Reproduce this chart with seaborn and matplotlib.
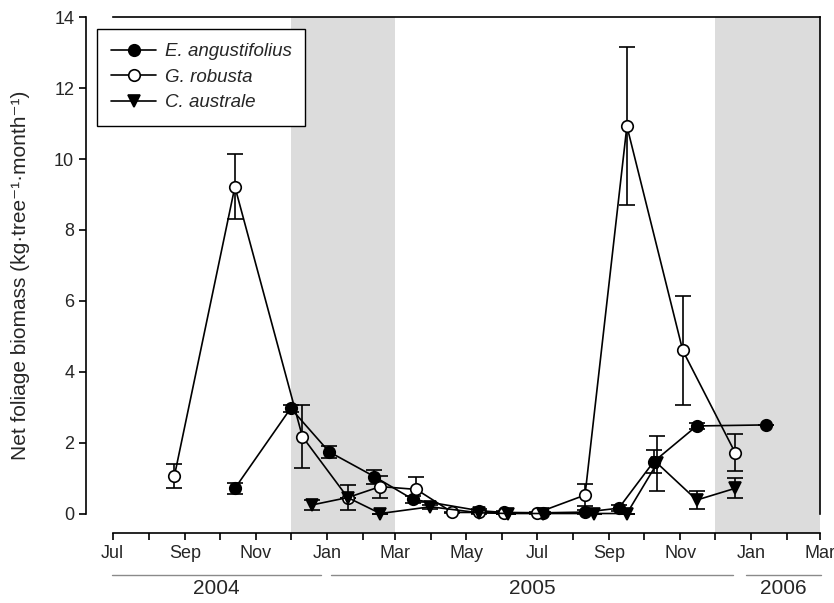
import matplotlib
matplotlib.use("Agg")
import matplotlib.pyplot as plt
import matplotlib.dates as mdates
from matplotlib.lines import Line2D
import numpy as np
import pandas as pd
import seaborn as sns

# ---------------- data ----------------
ea_dates = ["2004-10-14", "2004-12-01", "2005-01-03", "2005-02-11", "2005-03-16",
            "2005-05-12", "2005-06-02", "2005-07-06", "2005-08-11", "2005-09-09",
            "2005-10-09", "2005-11-15", "2006-01-14"]
ea_vals = [0.71, 2.97, 1.74, 1.04, 0.40, 0.08, 0.03, 0.02, 0.04, 0.15, 1.46, 2.47, 2.50]
ea_errs = [0.15, 0.10, 0.17, 0.20, 0.10, 0.06, 0.03, 0.02, 0.05, 0.08, 0.33, 0.08, 0.0]

gr_dates = ["2004-08-23", "2004-10-14", "2004-12-11", "2005-01-19", "2005-02-16",
            "2005-03-19", "2005-04-19", "2005-05-12", "2005-06-02", "2005-07-01",
            "2005-08-11", "2005-09-16", "2005-11-03", "2005-12-18"]
gr_vals = [1.06, 9.22, 2.17, 0.45, 0.76, 0.68, 0.03, 0.03, 0.02, 0.02, 0.52, 10.93, 4.60, 1.72]
gr_errs = [0.33, 0.92, 0.90, 0.36, 0.31, 0.36, 0.02, 0.03, 0.02, 0.02, 0.31, 2.22, 1.55, 0.53]

ca_dates = ["2004-12-19", "2005-01-19", "2005-02-16", "2005-03-31", "2005-05-12",
            "2005-06-06", "2005-07-06", "2005-08-19", "2005-09-16", "2005-10-12",
            "2005-11-15", "2005-12-18"]
ca_vals = [0.24, 0.45, 0.0, 0.19, 0.02, 0.0, 0.0, 0.0, 0.0, 1.42, 0.38, 0.71]
ca_errs = [0.14, 0.0, 0.0, 0.05, 0.0, 0.0, 0.0, 0.0, 0.0, 0.78, 0.25, 0.28]

species = ["E. angustifolius", "G. robusta", "C. australe"]
season_spans = [("2004-12-01", "2005-03-01"), ("2005-12-01", "2006-03-01")]
year_labels = ["2004", "2005", "2006"]
year_spans = [("2004-06-30", "2004-12-27"), ("2005-01-05", "2005-12-16"), ("2005-12-27", "2006-03-02")]
y_ticks = [0, 2, 4, 6, 8, 10, 12, 14]

# ---------------- style ----------------
sns.set_style("ticks")
plt.rcParams["font.family"] = ["Liberation Sans", "DejaVu Sans"]

fig = plt.figure(figsize=(8.34, 6.03), dpi=100)
ax = fig.add_axes([86 / 834, 70 / 603, 734 / 834, 515.7 / 603])

x_start = pd.Timestamp("2004-07-01")
x_end = pd.Timestamp("2006-03-01")
ax.set_xlim(x_start - pd.Timedelta(days=23), x_end)
ax.set_ylim(-0.55, 14)

for a, b in season_spans:
    ax.axvspan(pd.Timestamp(a), pd.Timestamp(b), color="#dcdcdc", lw=0, zorder=0)

series = [
    (ea_dates, ea_vals, ea_errs, "o", "black", 8.3),
    (gr_dates, gr_vals, gr_errs, "o", "white", 8.3),
    (ca_dates, ca_vals, ca_errs, "v", "black", 9.0),
]

handles = []
for name, (d, v, e, mk, fc, ms) in zip(species, series):
    df = pd.DataFrame({"date": pd.to_datetime(d), "value": v, "err": e})
    ax.errorbar(df["date"], df["value"], yerr=df["err"], fmt="none", ecolor="black",
                elinewidth=1.2, capsize=5.5, capthick=1.2, zorder=2)
    sns.lineplot(data=df, x="date", y="value", ax=ax, color="black", lw=1.2,
                 marker=mk, markersize=ms, markerfacecolor=fc, markeredgecolor="black",
                 markeredgewidth=1.2, estimator=None, sort=True, zorder=3, legend=False)
    handles.append(Line2D([], [], color="black", lw=1.2, marker=mk, markersize=ms,
                          markerfacecolor=fc, markeredgecolor="black", markeredgewidth=1.2))

# axes / spines
ax.spines["left"].set_bounds(0, 14)
ax.spines["right"].set_bounds(0, 14)
ax.spines["top"].set_bounds(mdates.date2num(x_start), mdates.date2num(x_end))
ax.spines["bottom"].set_bounds(mdates.date2num(x_start), mdates.date2num(x_end))
for s in ax.spines.values():
    s.set_linewidth(1.2)
    s.set_color("black")
ax.spines["right"].set_visible(True)
ax.spines["top"].set_visible(True)

ax.set_yticks(y_ticks)
ax.xaxis.set_major_locator(mdates.MonthLocator(bymonth=[1, 3, 5, 7, 9, 11]))
ax.xaxis.set_minor_locator(mdates.MonthLocator())
ax.xaxis.set_major_formatter(mdates.DateFormatter("%b"))
ax.tick_params(axis="both", which="both", direction="out", length=5, width=1.2,
               color="black", labelsize=13, pad=3.5)
ax.tick_params(axis="x", which="minor", length=5)
ax.tick_params(right=False, top=False)

ax.set_xlabel("")
ax.set_ylabel("Net foliage biomass (kg·tree⁻¹·month⁻¹)", fontsize=15, labelpad=17)

# year lines under the axis
trans = ax.get_xaxis_transform()
for lab, (a, b) in zip(year_labels, year_spans):
    ta, tb = pd.Timestamp(a), pd.Timestamp(b)
    ax.plot([ta, tb], [-0.0814, -0.0814], transform=trans, color="#8a8a8a", lw=1.0,
            clip_on=False)
    mid = ta + (tb - ta) / 2
    ax.text(mid, -0.107, lab, transform=trans, ha="center", va="center", fontsize=15)

leg = ax.legend(handles, species, loc="upper left", bbox_to_anchor=(0.015, 0.977),
                borderaxespad=0, frameon=True, fancybox=False, edgecolor="black",
                framealpha=1, handlelength=2.4, labelspacing=0.45,
                borderpad=0.75, handletextpad=0.45, prop={"style": "italic", "size": 13.5})
leg.get_frame().set_linewidth(1.0)
leg.set_zorder(10)

fig.savefig("out.png", dpi=100)
